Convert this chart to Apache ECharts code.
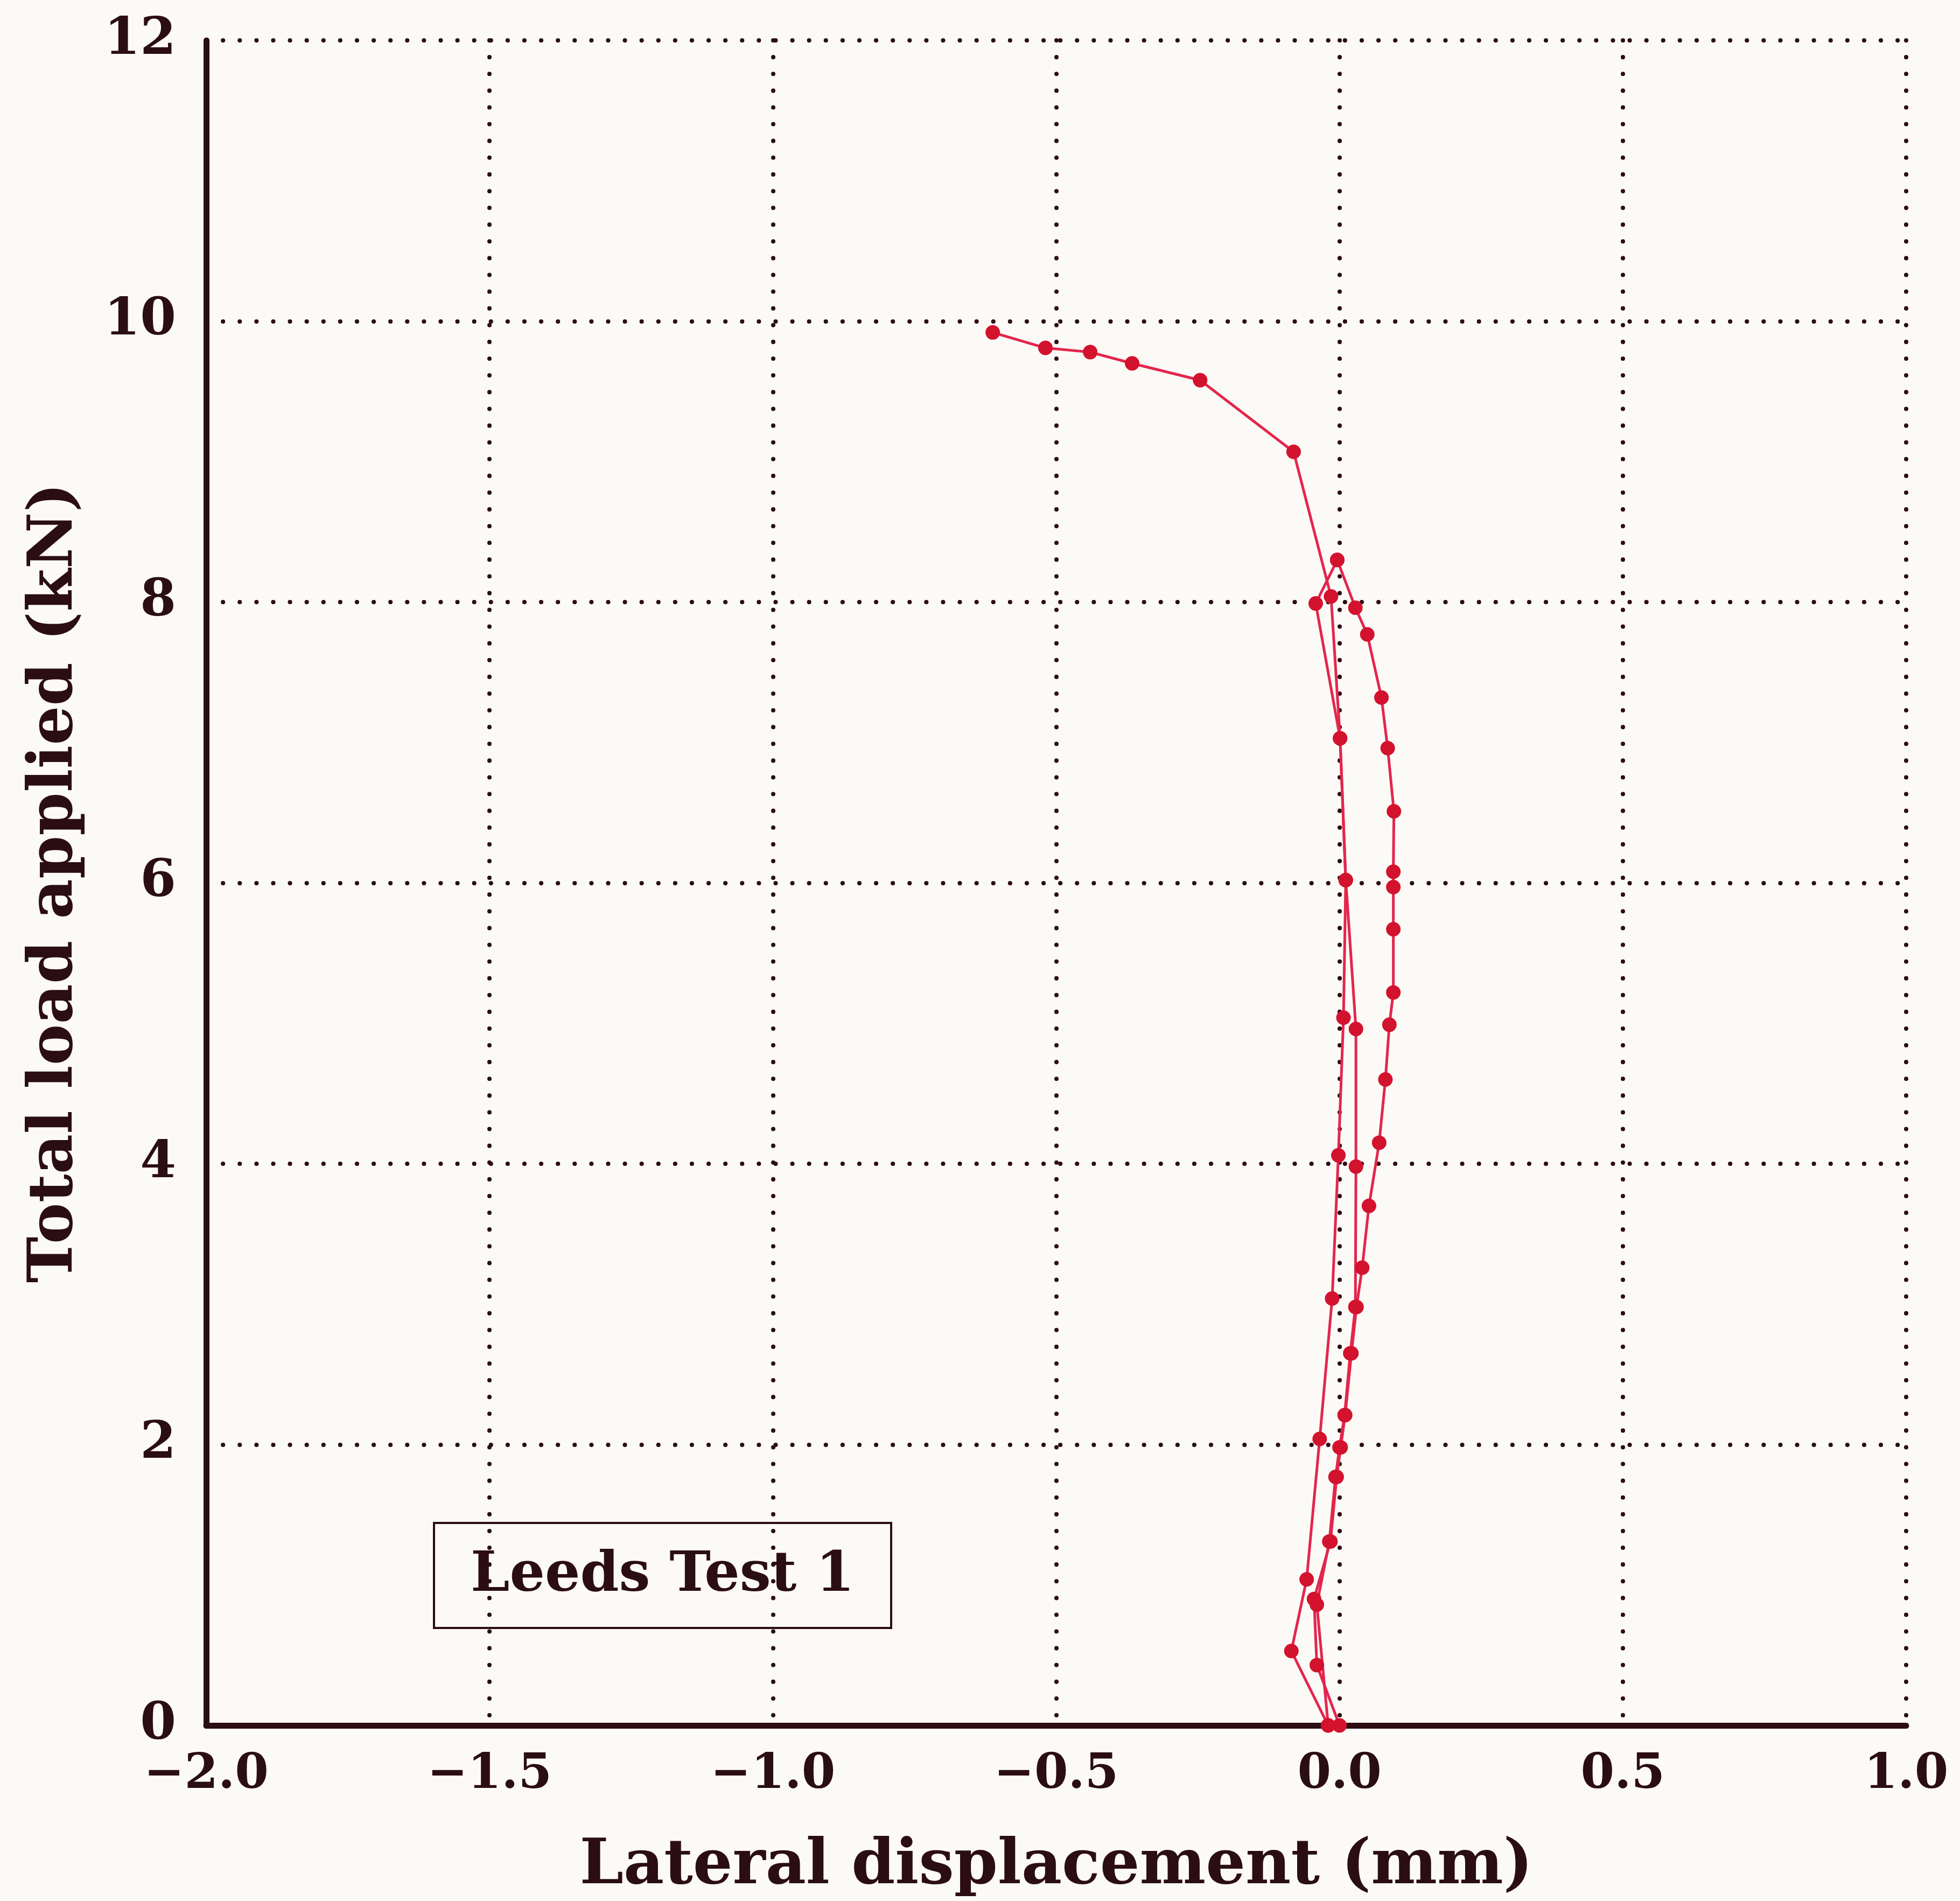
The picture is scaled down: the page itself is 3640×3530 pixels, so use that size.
<!DOCTYPE html>
<html>
<head>
<meta charset="utf-8">
<script src="https://cdn.jsdelivr.net/npm/echarts@6/dist/echarts.min.js"></script>
<style>
  html, body { margin: 0; padding: 0; background: #fcfaf6; }
  #chart { width: 3640px; height: 3530px; }
</style>
</head>
<body>
<div id="chart"></div>
<script>
// ---- Data (lateral displacement mm, total load kN) ----
const loading1 = [
  [0.000, 0.00], [-0.040, 0.43], [-0.045, 0.90], [-0.016, 1.31], [-0.005, 1.77],
  [0.002, 1.98], [0.010, 2.21], [0.021, 2.65], [0.030, 2.98], [0.040, 3.26],
  [0.052, 3.70], [0.070, 4.15], [0.081, 4.60], [0.088, 4.99], [0.095, 5.22],
  [0.095, 5.67], [0.095, 5.97], [0.095, 6.08], [0.096, 6.51], [0.085, 6.96],
  [0.074, 7.32], [0.049, 7.77], [0.028, 7.96], [-0.004, 8.30]
];
const unloading1 = [
  [-0.004, 8.30], [-0.042, 7.99], [0.001, 7.03], [0.011, 6.02], [0.007, 5.04],
  [-0.002, 4.06], [-0.013, 3.04], [-0.035, 2.04], [-0.058, 1.04], [-0.085, 0.53],
  [-0.020, 0.00]
];
const loading2 = [
  [-0.020, 0.00], [-0.040, 0.86], [-0.018, 1.31], [-0.007, 1.77], [0.000, 1.98],
  [0.009, 2.21], [0.019, 2.65], [0.028, 2.98], [0.029, 3.98], [0.029, 4.96],
  [0.011, 6.02], [0.001, 7.03], [-0.015, 8.04], [-0.081, 9.07], [-0.246, 9.58],
  [-0.366, 9.70], [-0.440, 9.78], [-0.519, 9.81], [-0.612, 9.92]
];
const xRange = [-2.0, 1.0, 0.5];   // min, max, interval
const yRange = [0, 12, 2];
const xTitle = 'Lateral displacement (mm)';
const yTitle = 'Total load applied (kN)';
const boxLabel = 'Leeds Test 1';

// ---- Styling ----
const ink = '#2b0d14';
const lineRed = '#e3264d';
const dotRed = '#d3122e';
const font = 'DejaVu Serif';

function mkSeries(name, data) {
  return {
    name: name, type: 'line', data: data,
    symbol: 'circle', symbolSize: 27, showSymbol: true,
    lineStyle: { color: lineRed, width: 5 },
    itemStyle: { color: dotRed, borderWidth: 0 },
    animation: false
  };
}

const dotted = { color: ink, width: 8, type: [0.1, 31], cap: 'round' };

const chart = echarts.init(document.getElementById('chart'), null, { renderer: 'canvas' });
chart.setOption({
  backgroundColor: '#fcfaf6',
  animation: false,
  title: {
    text: boxLabel,
    left: 806, top: 2828,
    padding: [48, 68, 44, 68],
    borderColor: ink, borderWidth: 4,
    textStyle: { fontFamily: font, fontWeight: 'bold', fontSize: 103, color: ink }
  },
  grid: { left: 383, right: 100, top: 75, bottom: 315, containLabel: false },
  xAxis: {
    type: 'value', min: xRange[0], max: xRange[1], interval: xRange[2],
    name: xTitle, nameLocation: 'middle', nameGap: 205,
    nameTextStyle: { fontFamily: font, fontWeight: 'bold', fontSize: 116, color: ink },
    axisLine: { show: true, onZero: false, lineStyle: { color: ink, width: 11 } },
    axisTick: { show: false },
    splitLine: { show: true, lineStyle: dotted },
    axisLabel: {
      margin: 48, fontFamily: font, fontWeight: 'bold', fontSize: 90, color: ink,
      formatter: v => (v < 0 ? '\u2212' : '') + Math.abs(v).toFixed(1)
    }
  },
  yAxis: {
    type: 'value', min: yRange[0], max: yRange[1], interval: yRange[2],
    name: yTitle, nameLocation: 'middle', nameGap: 222,
    nameTextStyle: { fontFamily: font, fontWeight: 'bold', fontSize: 115, color: ink },
    axisLine: { show: true, onZero: false, lineStyle: { color: ink, width: 11 } },
    axisTick: { show: false },
    splitLine: { show: true, lineStyle: dotted },
    axisLabel: { margin: 56, fontFamily: font, fontWeight: 'bold', fontSize: 96, color: ink }
  },
  series: [
    mkSeries('Loading 1', loading1),
    mkSeries('Unloading 1', unloading1),
    mkSeries('Loading 2', loading2)
  ]
});
</script>
</body>
</html>
